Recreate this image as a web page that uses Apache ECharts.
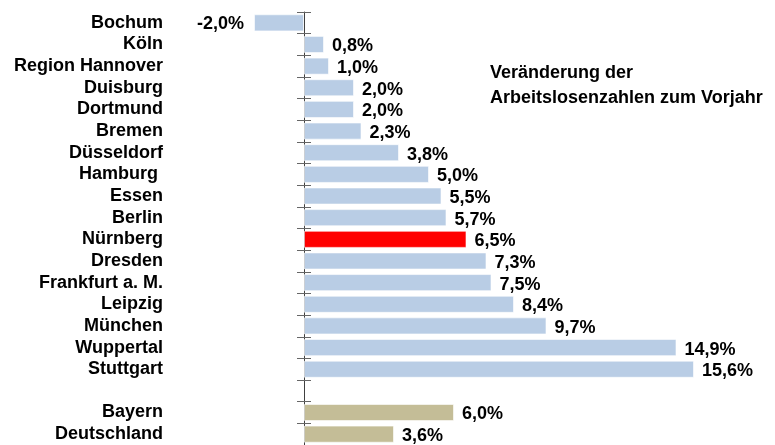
<!DOCTYPE html>
<html>
<head>
<meta charset="utf-8">
<title>Arbeitslosenzahlen</title>
<script src="https://cdn.jsdelivr.net/npm/echarts@6/dist/echarts.min.js"></script>
<style>
	html, body { margin: 0; padding: 0; background: #fff; }
	#main { width: 775px; height: 445px; }
</style>
</head>
<body>
<div id="main"></div>
<script>
	/* Daten */
	var staedte = ['Bochum', 'Köln', 'Region Hannover', 'Duisburg', 'Dortmund', 'Bremen',
		'Düsseldorf', 'Hamburg ', 'Essen', 'Berlin', 'Nürnberg', 'Dresden', 'Frankfurt a. M.',
		'Leipzig', 'München', 'Wuppertal', 'Stuttgart', '', 'Bayern', 'Deutschland'];
	var werte = [-2.0, 0.8, 1.0, 2.0, 2.0, 2.3, 3.8, 5.0, 5.5, 5.7, 6.5, 7.3, 7.5, 8.4, 9.7,
		14.9, 15.6, null, 6.0, 3.6];
	var hervorgehoben = ['Nürnberg'];
	var vergleich = ['Bayern', 'Deutschland'];

	var schrift = '"Liberation Sans", Arial, sans-serif';

	function fmt(v) {
		return v.toFixed(1).replace('.', ',') + '%';
	}

	var balken = [];
	for (var i = 0; i < werte.length; i++) {
		var farbe = '#b9cde5';
		if (hervorgehoben.indexOf(staedte[i]) >= 0) farbe = '#ff0000';
		if (vergleich.indexOf(staedte[i]) >= 0) farbe = '#c4bd97';
		var item = {
			value: werte[i],
			itemStyle: { color: farbe }
		};
		if (werte[i] !== null && werte[i] < 0) {
			item.label = { position: 'left', offset: [0, 1], distance: 10 };
		}
		balken.push(item);
	}

	var tickStyle = { color: '#666666', width: 1 };

	var myChart = echarts.init(document.getElementById('main'));
	var option = {
		animation: false,
		title: {
			text: 'Veränderung der\nArbeitslosenzahlen zum Vorjahr',
			left: 485,
			top: 56,
			textStyle: {
				fontFamily: schrift,
				fontWeight: 'bold',
				fontSize: 18,
				lineHeight: 25,
				color: '#000'
			}
		},
		// grid 0: Balken (ab -2), grid 1: Kategorieachse bei 0
		grid: [
			{ left: 254, right: 21, top: 12, bottom: 0, containLabel: false, outerBoundsMode: 'none' },
			{ left: 304, right: 21, top: 12, bottom: 0, containLabel: false, outerBoundsMode: 'none' }
		],
		xAxis: [
			{ type: 'value', gridIndex: 0, min: -2, max: 18, show: false },
			{ type: 'value', gridIndex: 1, min: 0, max: 1, show: false }
		],
		yAxis: [
			{
				type: 'category',
				gridIndex: 0,
				data: staedte,
				inverse: true,
				show: false
			},
			{
				type: 'category',
				gridIndex: 1,
				data: staedte,
				inverse: true,
				position: 'left',
				axisLine: { show: true, lineStyle: { color: '#404040', width: 1 } },
				axisTick: { show: true, interval: 0, length: 7, lineStyle: tickStyle },
				axisLabel: {
					interval: 0,
					margin: 141,
					fontFamily: schrift,
					fontWeight: 'bold',
					fontSize: 18,
					color: '#000'
				}
			},
			{
				// nur fuer die Ticks nach innen
				type: 'category',
				gridIndex: 1,
				data: staedte,
				inverse: true,
				position: 'left',
				axisLine: { show: false },
				axisTick: { show: true, interval: 0, inside: true, length: 7, lineStyle: tickStyle },
				axisLabel: { show: false }
			}
		],
		series: [
			{
				type: 'bar',
				xAxisIndex: 0,
				yAxisIndex: 0,
				data: balken,
				barCategoryGap: '21%',
				itemStyle: { borderColor: 'rgba(255,255,255,0.6)', borderWidth: 1 },
				label: {
					show: true,
					position: 'right',
					distance: 8,
					offset: [0, 2],
					fontFamily: schrift,
					fontWeight: 'bold',
					fontSize: 18,
					color: '#000',
					formatter: function (p) {
						return p.value === null ? '' : fmt(p.value);
					}
				}
			}
		]
	};
	myChart.setOption(option);
</script>
</body>
</html>
